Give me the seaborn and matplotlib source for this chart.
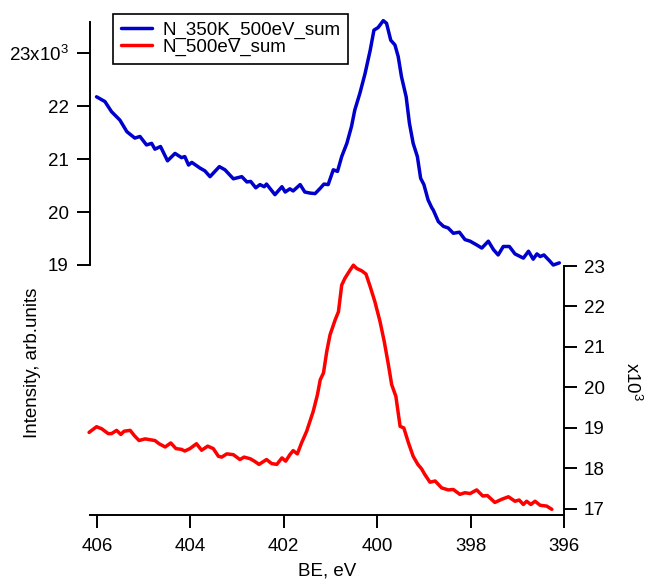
import numpy as np
import pandas as pd
import matplotlib
matplotlib.use('Agg')
import matplotlib.pyplot as plt
import seaborn as sns

# binding energy (eV) and intensity (x10^3)
be_blue = [406.01, 405.83, 405.69, 405.51, 405.36, 405.19, 405.08, 404.94, 404.83, 404.76,
           404.64, 404.49, 404.33, 404.19, 404.12, 404.04, 403.97, 403.79, 403.69, 403.58,
           403.38, 403.26, 403.08, 402.90, 402.79, 402.71, 402.60, 402.51, 402.42, 402.37,
           402.19, 402.04, 401.97, 401.87, 401.80, 401.65, 401.55, 401.44, 401.33, 401.22,
           401.14, 401.05, 400.94, 400.85, 400.76, 400.65, 400.55, 400.48, 400.37, 400.26,
           400.15, 400.07, 399.98, 399.87, 399.80, 399.71, 399.62, 399.55, 399.48, 399.38,
           399.31, 399.23, 399.14, 399.07, 399.00, 398.91, 398.83, 398.80, 398.69, 398.58,
           398.48, 398.37, 398.24, 398.12, 398.01, 397.87, 397.76, 397.62, 397.51, 397.41,
           397.30, 397.17, 397.05, 396.87, 396.76, 396.66, 396.58, 396.51, 396.43, 396.30,
           396.23, 396.10]
int_blue = [22.18, 22.09, 21.90, 21.74, 21.52, 21.40, 21.43, 21.27, 21.30, 21.19,
            21.24, 20.97, 21.11, 21.03, 21.05, 20.89, 20.94, 20.83, 20.78, 20.67,
            20.86, 20.80, 20.63, 20.67, 20.57, 20.58, 20.46, 20.52, 20.48, 20.53,
            20.33, 20.48, 20.38, 20.44, 20.40, 20.52, 20.38, 20.36, 20.35, 20.45,
            20.53, 20.52, 20.80, 20.77, 21.05, 21.30, 21.62, 21.93, 22.25, 22.62,
            23.06, 23.44, 23.49, 23.62, 23.57, 23.25, 23.16, 22.94, 22.56, 22.18,
            21.68, 21.30, 21.05, 20.64, 20.52, 20.23, 20.08, 20.04, 19.82, 19.73,
            19.70, 19.60, 19.62, 19.48, 19.45, 19.38, 19.32, 19.45, 19.29, 19.19,
            19.35, 19.35, 19.21, 19.13, 19.26, 19.11, 19.21, 19.16, 19.19, 19.07,
            19.00, 19.04]

be_red = [406.17, 406.01, 405.90, 405.76, 405.69, 405.58, 405.49, 405.42, 405.29, 405.20,
          405.10, 404.97, 404.87, 404.76, 404.67, 404.54, 404.42, 404.31, 404.19, 404.12,
          404.01, 403.87, 403.76, 403.63, 403.51, 403.40, 403.33, 403.22, 403.08, 402.94,
          402.85, 402.72, 402.63, 402.53, 402.37, 402.26, 402.15, 402.04, 401.96, 401.87,
          401.80, 401.71, 401.62, 401.51, 401.37, 401.28, 401.22, 401.15, 401.08, 401.01,
          400.90, 400.83, 400.76, 400.69, 400.58, 400.51, 400.44, 400.33, 400.24, 400.15,
          400.05, 399.94, 399.85, 399.76, 399.69, 399.60, 399.51, 399.43, 399.33, 399.23,
          399.13, 399.05, 398.98, 398.87, 398.76, 398.62, 398.48, 398.37, 398.23, 398.12,
          398.01, 397.87, 397.74, 397.64, 397.48, 397.33, 397.19, 397.05, 396.96, 396.87,
          396.80, 396.71, 396.62, 396.51, 396.37, 396.26]
int_red = [18.89, 19.03, 18.98, 18.86, 18.86, 18.94, 18.84, 18.92, 18.94, 18.81,
           18.69, 18.73, 18.71, 18.69, 18.61, 18.53, 18.63, 18.49, 18.47, 18.43,
           18.49, 18.61, 18.45, 18.55, 18.49, 18.30, 18.28, 18.36, 18.34, 18.22,
           18.28, 18.24, 18.18, 18.10, 18.22, 18.12, 18.10, 18.26, 18.18, 18.34,
           18.44, 18.36, 18.63, 18.92, 19.41, 19.82, 20.19, 20.36, 20.89, 21.30,
           21.67, 21.87, 22.53, 22.70, 22.90, 23.02, 22.94, 22.88, 22.80, 22.49,
           22.12, 21.63, 21.14, 20.56, 20.07, 19.78, 19.04, 19.00, 18.63, 18.30,
           18.10, 17.99, 17.85, 17.66, 17.69, 17.52, 17.47, 17.48, 17.36, 17.40,
           17.38, 17.47, 17.32, 17.33, 17.16, 17.24, 17.30, 17.19, 17.22, 17.11,
           17.19, 17.11, 17.19, 17.09, 17.07, 16.99]

top_ticks = [19, 20, 21, 22, 23]
top_labels = ['19', '20', '21', '22', '23x10$^3$']
bot_ticks = [17, 18, 19, 20, 21, 22, 23]

sns.set_style('ticks')
plt.rcParams['font.family'] = ['Liberation Sans', 'DejaVu Sans']
plt.rcParams['mathtext.default'] = 'regular'
plt.rcParams['font.size'] = 13.5
for k in ['text.color', 'axes.labelcolor', 'xtick.color', 'ytick.color']:
    plt.rcParams[k] = 'black'

W, H = 646, 579
fig = plt.figure(figsize=(W / 100, H / 100), dpi=100)
ax_top = fig.add_axes([90 / W, (H - 265) / H, 474 / W, 243.3 / H])
ax_bot = fig.add_axes([90 / W, (H - 515) / H, 474 / W, 249 / H])

blue = '#0000CC'
red = '#FF0000'

sns.lineplot(x=be_blue, y=int_blue, ax=ax_top, color=blue, linewidth=2.5,
             label='N_350K_500eV_sum', legend=False, clip_on=False)
sns.lineplot(x=be_red, y=int_red, ax=ax_bot, color=red, linewidth=2.5,
             label='N_500eV_sum', legend=False, clip_on=False)

for ax in (ax_top, ax_bot):
    ax.set_xlim(406.15, 396)
    ax.patch.set_alpha(0)
    for s in ax.spines.values():
        s.set_linewidth(1.4)
        s.set_color('black')
    ax.tick_params(direction='out', length=9.4, width=1.4, colors='black',
                   labelsize=13.5)
    ax.set_xlabel('')
    ax.set_ylabel('')

# top panel: only the left axis
ax_top.set_ylim(19, 23.6)
ax_top.set_yticks(top_ticks)
ax_top.set_yticklabels(top_labels)
ax_top.tick_params(axis='y', pad=6)
ax_top.xaxis.set_visible(False)
for s in ['top', 'right', 'bottom']:
    ax_top.spines[s].set_visible(False)

# bottom panel: x axis and right axis
ax_bot.set_ylim(16.85, 23)
ax_bot.set_yticks(bot_ticks)
ax_bot.yaxis.tick_right()
ax_bot.tick_params(axis='y', pad=5)
ax_bot.set_xticks([406, 404, 402, 400, 398, 396])
ax_bot.tick_params(axis='x', pad=7)
for s in ['top', 'left']:
    ax_bot.spines[s].set_visible(False)

h1, l1 = ax_top.get_legend_handles_labels()
h2, l2 = ax_bot.get_legend_handles_labels()
leg = fig.legend(h1 + h2, l1 + l2, loc='upper left',
                 bbox_to_anchor=(113 / W, 1 - 14 / H), borderaxespad=0,
                 fancybox=False, framealpha=1, edgecolor='black',
                 handlelength=1.7, handletextpad=0.55, labelspacing=0.0,
                 borderpad=0.4, fontsize=13.5)
leg.get_frame().set_linewidth(1.2)

fig.text(33 / W, 1 - 363 / H, 'Intensity, arb.units', rotation=90,
         ha='center', va='center')
fig.text(327 / W, 1 - 562 / H, 'BE, eV', ha='center', va='top')
fig.text(632 / W, 1 - 382 / H, 'x10$^3$', rotation=-90, ha='center', va='center')

fig.savefig('out.png', dpi=100)
